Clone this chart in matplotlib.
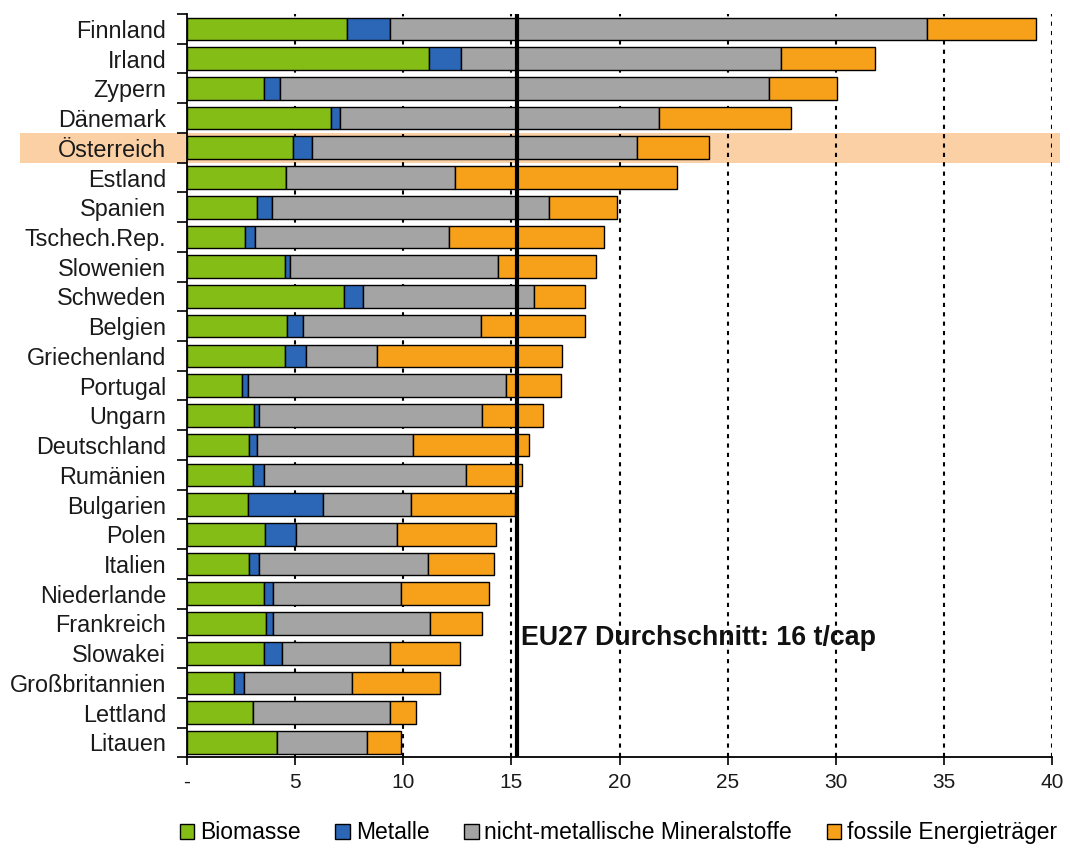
import numpy as np
import matplotlib
matplotlib.use('Agg')
import matplotlib.pyplot as plt
from matplotlib.patches import Rectangle
import matplotlib.transforms as mtransforms

plt.rcParams['font.family'] = ['Liberation Sans', 'DejaVu Sans']

countries = ['Finnland', 'Irland', 'Zypern', 'Dänemark', 'Österreich', 'Estland',
             'Spanien', 'Tschech.Rep.', 'Slowenien', 'Schweden', 'Belgien',
             'Griechenland', 'Portugal', 'Ungarn', 'Deutschland', 'Rumänien',
             'Bulgarien', 'Polen', 'Italien', 'Niederlande', 'Frankreich',
             'Slowakei', 'Großbritannien', 'Lettland', 'Litauen']
biomasse = [7.40, 11.21, 3.55, 6.68, 4.88, 4.56, 3.23, 2.66, 4.52, 7.27, 4.64, 4.52, 2.56,
            3.11, 2.87, 3.04, 2.80, 3.60, 2.87, 3.55, 3.63, 3.55, 2.16, 3.07, 4.16]
metalle = [2.00, 1.47, 0.73, 0.40, 0.88, 0.00, 0.68, 0.49, 0.24, 0.85, 0.72, 0.99, 0.24,
           0.24, 0.36, 0.51, 3.51, 1.43, 0.44, 0.44, 0.36, 0.84, 0.47, 0.00, 0.00]
mineral = [24.80, 14.78, 22.62, 14.75, 15.03, 7.85, 12.85, 8.97, 9.60, 7.94, 8.25, 3.28, 11.96,
           10.29, 7.24, 9.34, 4.05, 4.69, 7.82, 5.92, 7.25, 4.98, 5.01, 6.30, 4.15]
fossil = [5.08, 4.34, 3.14, 6.10, 3.33, 10.25, 3.14, 7.16, 4.54, 2.34, 4.79, 8.56, 2.53,
          2.83, 5.36, 2.60, 4.82, 4.56, 3.07, 4.05, 2.40, 3.23, 4.05, 1.20, 1.60]
series_labels = ['Biomasse', 'Metalle', 'nicht-metallische Mineralstoffe', 'fossile Energieträger']
series_colors = ['#84BD16', '#2C66B6', '#A4A4A4', '#F7A01A']
xtick_values = [0, 5, 10, 15, 20, 25, 30, 35, 40]
xtick_labels = ['-', '5', '10', '15', '20', '25', '30', '35', '40']
eu_avg_pos = 15.25
eu_label = 'EU27 Durchschnitt: 16 t/cap'
highlight = 'Österreich'

n = len(countries)
fig = plt.figure(figsize=(10.7, 8.48), dpi=100)
ax = fig.add_axes([0.1748, 0.107, 0.8084, 0.8765])
ax.patch.set_visible(False)

y = np.arange(n)
left = np.zeros(n)
handles = []
for vals, col, lab in zip([biomasse, metalle, mineral, fossil], series_colors, series_labels):
    vals = np.array(vals)
    b = ax.barh(y, vals, left=left, height=0.76, color=col, edgecolor='black',
                linewidth=1.0, label=lab, zorder=3)
    handles.append(b)
    left = left + vals

ax.set_xlim(0, 40)
ax.set_ylim(n - 0.5, -0.5)

ax.set_xticks(xtick_values)
ax.set_xticklabels(xtick_labels, fontsize=15, color='#1a1a1a')
ax.tick_params(axis='x', direction='out', length=6, width=1.2, pad=5)

ax.set_yticks(np.arange(n + 1) - 0.5)
ax.set_yticklabels([])
ax.tick_params(axis='y', which='major', direction='out', length=7, width=1.2)
ax.set_yticks(y, minor=True)
ax.set_yticklabels(countries, minor=True, fontsize=16.8, color='#1a1a1a')
ax.tick_params(axis='y', which='minor', length=0, pad=15)

for s in ['top', 'right']:
    ax.spines[s].set_visible(False)
for s in ['left', 'bottom']:
    ax.spines[s].set_linewidth(1.3)

for xv in xtick_values[1:]:
    ax.axvline(xv, color='black', ls=(0, (2, 2.5)), lw=1.5, zorder=1)

ax.axvline(eu_avg_pos, color='black', lw=3, zorder=4)
ax.text(eu_avg_pos + 0.2, 20.5, eu_label, fontweight='bold', fontsize=19.3,
        va='center', ha='left', zorder=5, color='#111111')

# highlight band for Austria
hi = countries.index(highlight)
trans = mtransforms.blended_transform_factory(fig.transFigure, ax.transData)
rect = Rectangle((20 / 1070, hi - 0.5), (1060 - 20) / 1070, 1.0, transform=trans,
                 facecolor='#FBD0A4', edgecolor='none', zorder=-1)
fig.add_artist(rect)

fig.legend(handles, series_labels, loc='center', bbox_to_anchor=(0.578, 0.0177), ncol=4,
           frameon=False, fontsize=16.5, handlelength=0.65, handleheight=0.65,
           handletextpad=0.25, columnspacing=1.5, borderaxespad=0)

fig.savefig('out.png', dpi=100)
